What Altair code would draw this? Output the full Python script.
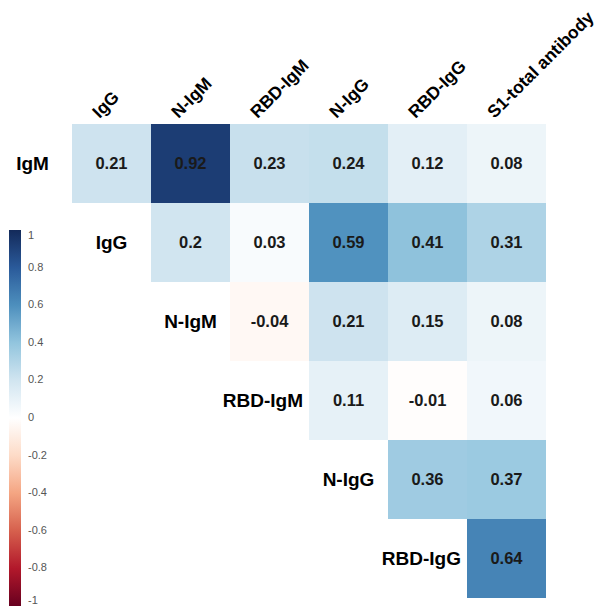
import altair as alt
import pandas as pd

cols = ["IgG", "N-IgM", "RBD-IgM", "N-IgG", "RBD-IgG", "S1-total antibody"]
rows = ["IgM", "IgG", "N-IgM", "RBD-IgM", "N-IgG", "RBD-IgG"]
# upper-triangle correlations, row r starts at column r
vals = [
    [0.21, 0.92, 0.23, 0.24, 0.12, 0.08],
    [0.2, 0.03, 0.59, 0.41, 0.31],
    [-0.04, 0.21, 0.15, 0.08],
    [0.11, -0.01, 0.06],
    [0.36, 0.37],
    [0.64],
]
legend_ticks = [-1, -0.8, -0.6, -0.4, -0.2, 0, 0.2, 0.4, 0.6, 0.8, 1]
palette = ["#67001F", "#B2182B", "#D6604D", "#F4A582", "#FDDBC7", "#FFFFFF",
           "#D1E5F0", "#92C5DE", "#4D8FBD", "#2A5A9A", "#132A5A"]

CELL = 79.0

recs = []
for r, rv in enumerate(vals):
    for k, v in enumerate(rv):
        c = r + k
        recs.append({"row": rows[r], "col": cols[c], "ri": r, "ci": c, "r": v,
                     "x0": c - 0.5, "x1": c + 0.5, "y0": r - 0.5, "y1": r + 0.5,
                     "lab": f"{v:g}"})
cells = pd.DataFrame(recs)

labs = pd.DataFrame({"name": rows, "ri": list(range(len(rows)))})
labs["xc"] = labs["ri"] - 1
labs["xr"] = labs["ri"] - 0.5
labs["long"] = labs["name"].str.len() > 5

heads = pd.DataFrame({"name": cols, "ci": list(range(len(cols)))})
heads["hx"] = heads["ci"] - 12 / CELL
heads["hy"] = -0.5 - 5 / CELL

FONT = "Liberation Sans"

xs = alt.Scale(domain=[-0.5, 5.5], nice=False, zero=False)
ys = alt.Scale(domain=[-0.5, 5.5], nice=False, zero=False, reverse=True)

color = alt.Color(
    "r:Q",
    scale=alt.Scale(domain=legend_ticks, range=palette, interpolate="rgb"),
    legend=alt.Legend(
        orient="none", legendX=-63, legendY=106, direction="vertical",
        gradientLength=376, gradientThickness=12, title=None,
        values=legend_ticks, labelOffset=7, labelFontSize=11,
        labelColor="#555555", labelFont=FONT,
        labelExpr="toString(round(datum.value*10)/10)",
        gradientStrokeWidth=0,
    ),
)

rects = alt.Chart(cells).mark_rect().encode(
    x=alt.X("x0:Q", scale=xs, axis=None),
    x2="x1:Q",
    y=alt.Y("y0:Q", scale=ys, axis=None),
    y2="y1:Q",
    color=color,
)

nums = alt.Chart(cells).mark_text(
    font=FONT, fontWeight="bold", fontSize=16.5, color="#1a1a1a"
).encode(
    x=alt.X("ci:Q", scale=xs, axis=None),
    y=alt.Y("ri:Q", scale=ys, axis=None),
    text="lab:N",
)

short_labs = alt.Chart(labs).transform_filter("!datum.long").mark_text(
    font=FONT, fontWeight="bold", fontSize=19, color="#000000", align="center"
).encode(
    x=alt.X("xc:Q", scale=xs, axis=None),
    y=alt.Y("ri:Q", scale=ys, axis=None),
    text="name:N",
)

long_labs = alt.Chart(labs).transform_filter("datum.long").mark_text(
    font=FONT, fontWeight="bold", fontSize=19, color="#000000", align="right", dx=-6
).encode(
    x=alt.X("xr:Q", scale=xs, axis=None),
    y=alt.Y("ri:Q", scale=ys, axis=None),
    text="name:N",
)

head_labs = alt.Chart(heads).mark_text(
    font=FONT, fontWeight="bold", fontSize=17.5, color="#000000",
    align="left", baseline="alphabetic", angle=315
).encode(
    x=alt.X("hx:Q", scale=xs, axis=None),
    y=alt.Y("hy:Q", scale=ys, axis=None),
    text="name:N",
)

chart = alt.layer(rects, nums, short_labs, long_labs, head_labs).properties(
    width=474, height=474,
    autosize=alt.AutoSizeParams(type="none"),
    padding={"left": 64, "top": 116, "right": 56, "bottom": 10},
).configure_view(stroke=None)

chart.save("out.html", embed_options={"renderer": "svg", "actions": False})
